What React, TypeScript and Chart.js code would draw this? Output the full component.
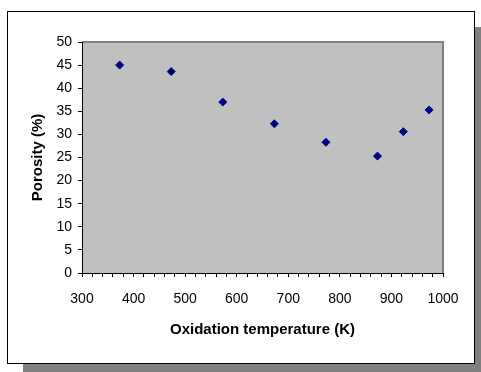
import React, { useEffect, useRef } from "react";
import { Chart, registerables } from "chart.js";

Chart.register(...registerables);

// Oxidation temperature (K) and measured porosity (%)
const temperatures = [373, 473, 573, 673, 773, 873, 923, 973];
const porosity = [45, 43.6, 37, 32.3, 28.3, 25.3, 30.6, 35.3];

const xTitle = "Oxidation temperature (K)";
const yTitle = "Porosity (%)";

const FONT = "'Liberation Sans', Arial, Helvetica, sans-serif";

// Draws the framed white panel with its drop shadow and the grey plot area.
const framePlugin = {
  id: "frame",
  beforeDraw(chart: Chart) {
    const { ctx, chartArea } = chart;
    ctx.save();
    // drop shadow
    ctx.fillStyle = "#808080";
    ctx.fillRect(23, 27, 458, 345);
    // white panel with black outline
    ctx.fillStyle = "#ffffff";
    ctx.fillRect(7, 11, 467, 352);
    ctx.strokeStyle = "#000000";
    ctx.lineWidth = 1;
    ctx.strokeRect(7.5, 11.5, 467, 352);
    // plot area
    const { left, top, right, bottom } = chartArea;
    ctx.fillStyle = "#c0c0c0";
    ctx.fillRect(left, top, right - left, bottom - top);
    ctx.strokeStyle = "#808080";
    ctx.lineWidth = 2;
    ctx.beginPath();
    ctx.moveTo(left, top);
    ctx.lineTo(right, top);
    ctx.lineTo(right, bottom);
    ctx.stroke();
    ctx.restore();
  },
};

export default function App() {
  const canvasRef = useRef<HTMLCanvasElement | null>(null);

  useEffect(() => {
    const canvas = canvasRef.current;
    if (!canvas) return;
    const chart = new Chart(canvas, {
      type: "scatter",
      data: {
        datasets: [
          {
            data: temperatures.map((t, i) => ({ x: t, y: porosity[i] })),
            pointStyle: "rectRot",
            pointRadius: 4,
            pointHoverRadius: 4,
            backgroundColor: "#000080",
            borderColor: "#000080",
            borderWidth: 1,
          },
        ],
      },
      options: {
        responsive: false,
        animation: false,
        devicePixelRatio: 1,
        layout: { padding: { left: 0, top: 42, right: 38, bottom: 0 } },
        plugins: {
          legend: { display: false },
          tooltip: { enabled: false },
        },
        scales: {
          x: {
            type: "linear",
            min: 300,
            max: 1000,
            afterFit(scale: any) {
              scale.height = 99;
            },
            ticks: {
              stepSize: 20,
              autoSkip: false,
              maxRotation: 0,
              minRotation: 0,
              padding: 14,
              color: "#000",
              font: { family: FONT, size: 14 },
              callback: (v: any) => (Number(v) % 100 === 0 ? String(v) : ""),
            },
            grid: {
              drawOnChartArea: false,
              drawTicks: true,
              tickLength: 4,
              color: "#000",
            },
            border: { display: true, color: "#000", width: 1 },
            title: {
              display: true,
              text: xTitle,
              color: "#000",
              font: { family: FONT, size: 15, weight: "bold" },
              padding: { top: 0, bottom: 33 },
            },
          },
          y: {
            type: "linear",
            min: 0,
            max: 50,
            afterFit(scale: any) {
              scale.width = 82;
            },
            ticks: {
              stepSize: 5,
              padding: 6,
              color: "#000",
              font: { family: FONT, size: 14 },
            },
            grid: {
              drawOnChartArea: false,
              drawTicks: true,
              tickLength: 4,
              color: "#000",
            },
            border: { display: true, color: "#000", width: 1 },
            title: {
              display: true,
              text: yTitle,
              color: "#000",
              font: { family: FONT, size: 15, weight: "bold" },
              padding: { top: 29, bottom: 0 },
            },
          },
        },
      },
      plugins: [framePlugin],
    });
    return () => chart.destroy();
  }, []);

  return (
    <div style={{ position: "fixed", left: 0, top: 0, width: 481, height: 372 }}>
      <canvas ref={canvasRef} width={481} height={372} style={{ display: "block" }} />
    </div>
  );
}
